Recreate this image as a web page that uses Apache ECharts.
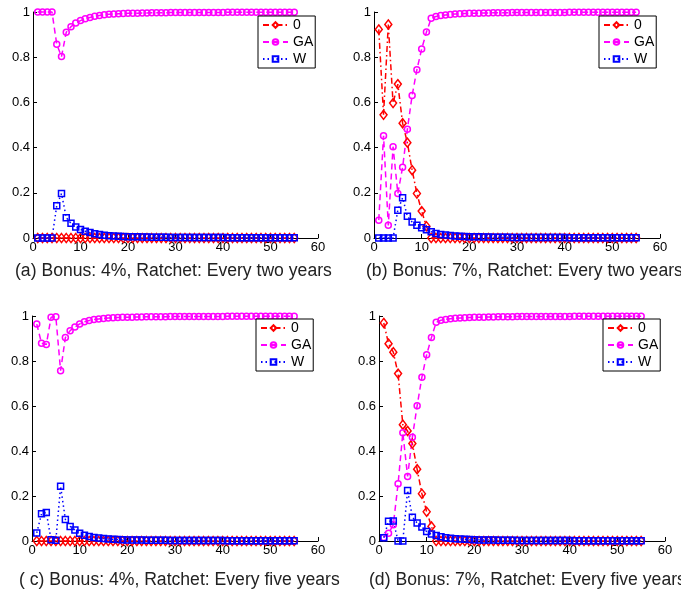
<!DOCTYPE html>
<html>
<head>
<meta charset="utf-8">
<script src="https://cdn.jsdelivr.net/npm/echarts@6/dist/echarts.min.js"></script>
<style>
html,body{margin:0;padding:0;background:#fff;}
#chart{width:681px;height:590px;}
</style>
</head>
<body>
<div id="chart"></div>
<script>
var years = [1,2,3,4,5,6,7,8,9,10,11,12,13,14,15,16,17,18,19,20,21,22,23,24,25,26,27,28,29,30,31,32,33,34,35,36,37,38,39,40,41,42,43,44,45,46,47,48,49,50,51,52,53,54,55];

var xTicks = [0,10,20,30,40,50,60];
var yTicks = [0,0.2,0.4,0.6,0.8,1];
var seriesNames = ['0','GA','W'];

var captions = [
  '(a) Bonus: 4%, Ratchet: Every two years',
  '(b) Bonus: 7%, Ratchet: Every two years',
  '( c) Bonus: 4%, Ratchet: Every five years',
  '(d) Bonus: 7%, Ratchet: Every five years'
];

// Panel (a)
var zeroA = [0,0,0,0,0,0,0,0,0,0,0,0,0,0,0,0,0,0,0,0,0,0,0,0,0,0,0,0,0,0,0,0,0,0,0,0,0,0,0,0,0,0,0,0,0,0,0,0,0,0,0,0,0,0,0];
var gaA = [1,1,1,1,0.857,0.803,0.91,0.935,0.951,0.962,0.97,0.976,0.981,0.985,0.988,0.99,0.991,0.992,0.993,0.994,0.995,0.995,0.996,0.996,0.997,0.997,0.997,0.997,0.998,0.998,0.998,0.998,0.998,0.998,0.998,0.998,0.998,0.998,0.998,0.998,0.999,0.999,0.999,0.999,0.999,0.999,0.999,0.999,0.999,0.999,0.999,0.999,0.999,0.999,0.999];
var wA = [0,0,0,0,0.143,0.197,0.09,0.065,0.049,0.038,0.03,0.024,0.019,0.015,0.012,0.01,0.009,0.008,0.007,0.006,0.005,0.005,0.004,0.004,0.003,0.003,0.003,0.003,0.002,0.002,0.002,0.002,0.002,0.002,0.002,0.002,0.002,0.002,0.002,0.002,0.001,0.001,0.001,0.001,0.001,0.001,0.001,0.001,0.001,0.001,0.001,0.001,0.001,0.001,0.001];

// Panel (b)
var zeroB = [0.923,0.545,0.945,0.597,0.681,0.508,0.422,0.30,0.197,0.119,0.052,0,0,0,0,0,0,0,0,0,0,0,0,0,0,0,0,0,0,0,0,0,0,0,0,0,0,0,0,0,0,0,0,0,0,0,0,0,0,0,0,0,0,0,0];
var gaB = [0.079,0.452,0.056,0.404,0.197,0.313,0.481,0.631,0.745,0.836,0.911,0.972,0.98,0.984,0.987,0.989,0.991,0.992,0.993,0.994,0.995,0.995,0.996,0.996,0.997,0.997,0.997,0.997,0.998,0.998,0.998,0.998,0.998,0.998,0.998,0.998,0.998,0.998,0.998,0.998,0.999,0.999,0.999,0.999,0.999,0.999,0.999,0.999,0.999,0.999,0.999,0.999,0.999,0.999,0.999];
var wB = [0,0,0,0,0.123,0.178,0.096,0.071,0.056,0.045,0.037,0.028,0.02,0.016,0.013,0.011,0.009,0.008,0.007,0.006,0.005,0.005,0.004,0.004,0.003,0.003,0.003,0.003,0.002,0.002,0.002,0.002,0.002,0.002,0.002,0.002,0.002,0.002,0.002,0.002,0.001,0.001,0.001,0.001,0.001,0.001,0.001,0.001,0.001,0.001,0.001,0.001,0.001,0.001,0.001];

// Panel (c)
var zeroC = [0,0,0,0,0,0,0,0,0,0,0,0,0,0,0,0,0,0,0,0,0,0,0,0,0,0,0,0,0,0,0,0,0,0,0,0,0,0,0,0,0,0,0,0,0,0,0,0,0,0,0,0,0,0,0];
var gaC = [0.964,0.879,0.873,0.994,0.997,0.757,0.904,0.935,0.951,0.965,0.974,0.98,0.984,0.987,0.989,0.991,0.992,0.993,0.994,0.995,0.995,0.996,0.996,0.997,0.997,0.997,0.997,0.997,0.998,0.998,0.998,0.998,0.998,0.998,0.998,0.998,0.998,0.998,0.998,0.998,0.999,0.999,0.999,0.999,0.999,0.999,0.999,0.999,0.999,0.999,0.999,0.999,0.999,0.999,0.999];
var wC = [0.036,0.121,0.127,0.006,0.003,0.243,0.096,0.065,0.049,0.035,0.026,0.02,0.016,0.013,0.011,0.009,0.008,0.007,0.006,0.005,0.005,0.004,0.004,0.003,0.003,0.003,0.003,0.003,0.002,0.002,0.002,0.002,0.002,0.002,0.002,0.002,0.002,0.002,0.002,0.002,0.001,0.001,0.001,0.001,0.001,0.001,0.001,0.001,0.001,0.001,0.001,0.001,0.001,0.001,0.001];

// Panel (d)
var zeroD = [0.969,0.877,0.839,0.744,0.517,0.489,0.433,0.319,0.21,0.13,0.065,0,0,0,0,0,0,0,0,0,0,0,0,0,0,0,0,0,0,0,0,0,0,0,0,0,0,0,0,0,0,0,0,0,0,0,0,0,0,0,0,0,0,0,0];
var gaD = [0.016,0.035,0.072,0.254,0.481,0.287,0.461,0.601,0.728,0.828,0.904,0.972,0.981,0.985,0.988,0.99,0.991,0.992,0.993,0.994,0.995,0.995,0.996,0.996,0.997,0.997,0.997,0.997,0.998,0.998,0.998,0.998,0.998,0.998,0.998,0.998,0.998,0.998,0.998,0.998,0.999,0.999,0.999,0.999,0.999,0.999,0.999,0.999,0.999,0.999,0.999,0.999,0.999,0.999,0.999];
var wD = [0.015,0.088,0.089,0,0,0.224,0.106,0.08,0.062,0.042,0.031,0.024,0.019,0.015,0.012,0.01,0.009,0.008,0.007,0.006,0.005,0.005,0.004,0.004,0.003,0.003,0.003,0.003,0.002,0.002,0.002,0.002,0.002,0.002,0.002,0.002,0.002,0.002,0.002,0.002,0.001,0.001,0.001,0.001,0.001,0.001,0.001,0.001,0.001,0.001,0.001,0.001,0.001,0.001,0.001];

var panels = [
  {zero: zeroA, ga: gaA, w: wA},
  {zero: zeroB, ga: gaB, w: wB},
  {zero: zeroC, ga: gaC, w: wC},
  {zero: zeroD, ga: gaD, w: wD}
];

// layout (px)
var grids = [
  {left: 33, top: 12, width: 285, height: 226},
  {left: 374, top: 12, width: 286, height: 226},
  {left: 32, top: 316, width: 286, height: 225},
  {left: 379, top: 316, width: 286, height: 225}
];
var legendPos = [
  {left: 258, top: 16},
  {left: 599, top: 16},
  {left: 256, top: 319},
  {left: 603, top: 319}
];
var captionPos = [
  {x: 15, y: 271},
  {x: 366, y: 271},
  {x: 19, y: 580},
  {x: 369, y: 580}
];

var FONT = '"Liberation Sans", Arial, sans-serif';

function pairs(arr) {
  return arr.map(function (v, i) { return [years[i], v]; });
}

var styles = [
  {color: '#ff0000', symbol: 'diamond', size: [7, 9], dash: [6, 3, 1.5, 3]},
  {color: '#ff00ff', symbol: 'circle', size: 6, dash: [6, 4]},
  {color: '#0000ff', symbol: 'rect', size: 6, dash: [1.5, 3]}
];

var option = {
  backgroundColor: '#fff',
  animation: false,
  grid: grids.map(function (g) {
    return {left: g.left, top: g.top, width: g.width, height: g.height, containLabel: false};
  }),
  xAxis: grids.map(function (g, i) {
    return {
      type: 'value', gridIndex: i, min: xTicks[0], max: xTicks[xTicks.length - 1], interval: 10,
      axisLine: {show: true, onZero: false, lineStyle: {color: '#000', width: 1}},
      axisTick: {show: true, inside: true, length: 4, lineStyle: {color: '#000'}},
      axisLabel: {color: '#000', fontSize: 13, fontFamily: FONT, margin: 3},
      splitLine: {show: false}
    };
  }),
  yAxis: grids.map(function (g, i) {
    return {
      type: 'value', gridIndex: i, min: yTicks[0], max: yTicks[yTicks.length - 1], interval: 0.2,
      axisLine: {show: true, onZero: false, lineStyle: {color: '#000', width: 1}},
      axisTick: {show: true, inside: true, length: 4, lineStyle: {color: '#000'}},
      axisLabel: {color: '#000', fontSize: 13, fontFamily: FONT, margin: 3,
        formatter: function (v) { return String(Math.round(v * 10) / 10); }},
      splitLine: {show: false}
    };
  }),
  legend: legendPos.map(function (p) {
    return {
      orient: 'vertical', left: p.left, top: p.top,
      data: seriesNames,
      backgroundColor: '#fff', borderColor: '#000', borderWidth: 1,
      padding: [2, 2, 2, 4], itemGap: 3, itemWidth: 25, itemHeight: 7,
      textStyle: {color: '#000', fontSize: 14, fontFamily: FONT},
      selectedMode: false
    };
  }),
  series: []
};

panels.forEach(function (p, i) {
  var arrs = [p.zero, p.ga, p.w];
  arrs.forEach(function (arr, k) {
    var s = styles[k];
    option.series.push({
      type: 'line', name: seriesNames[k], xAxisIndex: i, yAxisIndex: i,
      data: pairs(arr),
      symbol: s.symbol, symbolSize: s.size, showSymbol: true, showAllSymbol: true,
      lineStyle: {color: s.color, width: 1.5, type: s.dash},
      itemStyle: {color: 'rgba(255,255,255,0)', borderColor: s.color, borderWidth: 1.5},
      emphasis: {disabled: true},
      clip: false
    });
  });
});

option.graphic = captions.map(function (t, i) {
  return {
    type: 'text', left: captionPos[i].x, top: captionPos[i].y - 9,
    style: {text: t, fill: '#222', font: '17.6px ' + FONT}
  };
});

var chart = echarts.init(document.getElementById('chart'), null, {renderer: 'canvas'});
chart.setOption(option);
</script>
</body>
</html>
